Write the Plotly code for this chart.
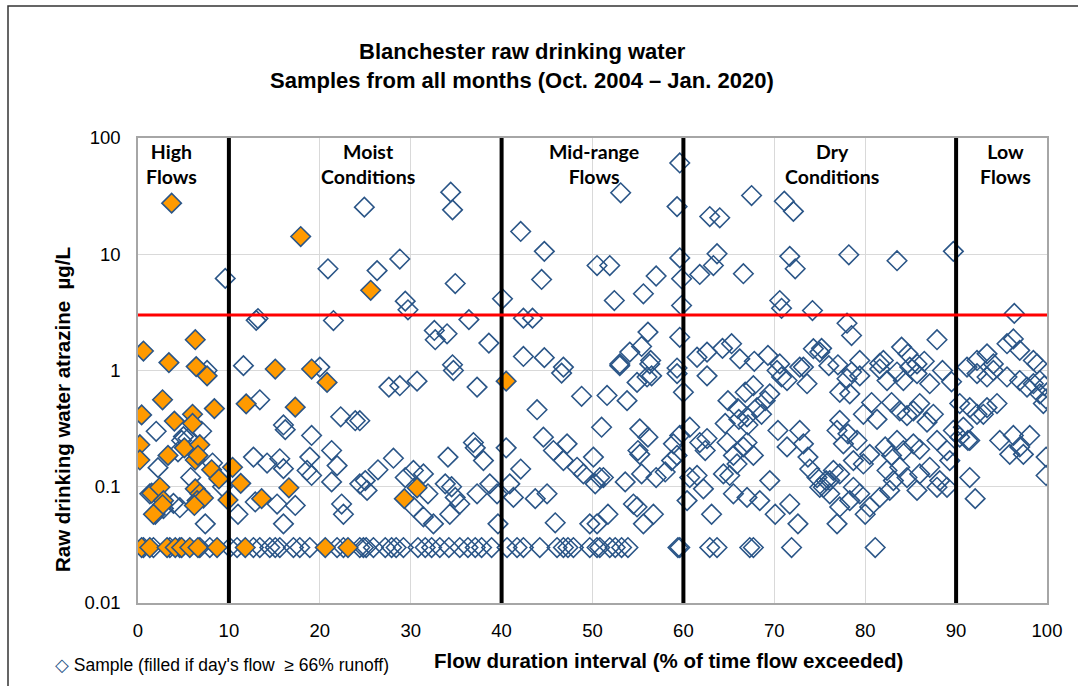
import plotly.graph_objects as go

# ---------------- DATA ----------------
# Samples with day's flow >= 66% runoff (filled)
filled_x = [3.7, 17.9, 25.6, 0.6, 6.3, 3.4, 6.4, 7.6, 2.7, 0.4, 4.0, 6.0, 6.0, 8.4, 0.2, 5.1, 6.8,
            3.3, 0.2, 6.3, 6.6, 8.1, 8.9, 10.4, 11.3, 1.5, 2.4, 2.8, 2.7, 1.7, 6.3, 6.8, 6.5, 7.2,
            6.2, 9.9, 13.6, 16.6, 17.3, 11.9, 15.1, 19.1, 20.8, 40.5, 30.7, 29.3,
            0.4, 1.3, 3.2, 4.1, 4.8, 5.7, 6.6, 8.7, 11.8, 20.6, 23.1]
filled_y = [27.5, 14.2, 4.9, 1.47, 1.84, 1.17, 1.08, 0.9, 0.56, 0.415, 0.367, 0.42, 0.35, 0.47, 0.23, 0.216, 0.23,
            0.186, 0.17, 0.17, 0.186, 0.14, 0.117, 0.147, 0.107, 0.088, 0.099, 0.076, 0.07, 0.058, 0.096, 0.087, 0.076, 0.08,
            0.069, 0.077, 0.079, 0.098, 0.484, 0.517, 1.03, 1.03, 0.79, 0.81, 0.098, 0.079,
            0.03, 0.03, 0.03, 0.03, 0.03, 0.03, 0.03, 0.03, 0.03, 0.03, 0.03]

# Other samples (open)
open_x = [
    9.6, 20.9, 13.0, 13.2, 21.5, 11.6, 20.0, 7.6,
    24.9, 34.4, 34.6, 42.1, 44.7, 44.4, 34.9, 28.8, 26.3, 29.4, 29.7, 40.1, 42.4, 43.4, 36.4, 32.6, 34.0, 32.7, 38.6,
    42.4, 44.7, 46.8, 34.6,
    59.6, 53.1, 59.3, 67.5, 62.9, 64.0, 71.1, 72.1, 50.5, 51.9, 59.6, 63.7, 63.3, 57.0, 59.8, 61.8, 66.6, 71.7, 72.3,
    55.6, 52.4, 59.8, 70.6, 70.8, 74.2, 59.6, 56.1, 55.4, 54.1, 53.0, 56.4, 62.6, 65.3, 66.2, 74.3, 75.0, 70.6, 72.8, 59.3,
    78.2, 83.5, 89.7, 96.4, 78.0, 78.5, 75.2, 87.9, 84.0, 84.7, 79.4, 82.0, 81.6, 85.7,
    92.3, 93.4, 94.1, 95.6, 96.3, 97.0, 98.5, 98.9, 67.8, 69.3, 61.5, 64.3, 88.5, 89.5, 86.5,
    13.4, 22.3, 23.9, 16.2, 16.0, 19.1, 21.3, 21.9, 12.7, 14.2, 15.6, 16.0, 18.9, 18.6, 19.1, 2.2, 1.3, 1.9, 2.8, 3.9,
    4.6, 7.4, 4.8, 5.0, 5.5, 11.0, 12.9, 15.3, 16.0, 17.3, 22.4, 22.6, 24.4, 21.3, 2.0, 4.4, 7.0, 8.2, 9.3, 5.8,
    34.7, 27.6, 28.8, 30.7, 37.3, 24.4, 28.1, 26.4, 34.1, 36.9, 37.1, 38.0, 40.5, 42.1, 43.9, 44.6, 46.6, 48.8, 45.7,
    47.2, 46.8, 48.3, 49.0, 50.1, 50.8, 25.0, 25.2, 29.4, 30.3, 31.4, 31.9, 30.3, 31.4, 32.5, 33.8, 34.5, 34.9, 35.4,
    34.3, 37.3, 38.7, 39.5, 39.6, 40.9, 41.3, 43.7, 45.0, 45.9, 49.7,
    53.0, 56.3, 54.9, 56.0, 56.5, 59.3, 60.0, 62.6, 51.6, 53.8, 51.0, 55.2, 56.1, 55.0, 55.2, 50.3, 51.2, 53.6, 55.4,
    57.0, 58.0, 58.7, 59.3, 58.9, 59.6, 54.5, 54.9, 56.7, 55.6, 51.7, 50.5, 60.4, 60.7, 61.8, 62.4, 62.6, 60.7, 61.5,
    62.2, 63.1, 64.8, 65.5, 65.9, 66.6, 67.0, 67.7, 64.9, 66.0, 66.8, 67.7, 67.0, 68.1, 68.6, 69.0, 69.5, 64.6, 66.1,
    67.1, 64.4, 65.1, 65.5, 67.0, 68.4, 69.5, 70.1, 70.3, 70.8, 71.4, 73.2, 73.6, 70.4, 71.4, 72.8, 73.2, 73.7, 71.7,
    72.6, 73.9, 74.7, 75.4, 76.1,
    78.5, 79.4, 78.0, 77.2, 78.3, 81.6, 82.4, 83.5, 84.2, 84.9, 85.7, 80.7, 81.3, 79.8, 82.9, 83.8, 84.6, 85.3, 86.0,
    87.1, 87.5, 86.8, 77.2, 76.9, 78.1, 79.1, 77.6, 82.2, 82.9, 83.5, 84.2, 85.3, 86.0, 87.9, 89.0, 89.7, 90.4, 91.3,
    89.3, 78.7, 79.8, 80.5, 76.5, 77.2, 75.7, 75.0, 76.1, 78.7, 79.4, 78.3, 77.2, 76.9, 82.4, 83.1, 83.8, 84.6, 82.7,
    81.6, 80.5, 80.0, 86.0, 87.1, 88.2, 89.0, 87.9, 85.7, 81.1, 90.4, 91.5, 92.3, 93.4, 94.5, 93.0, 91.5, 90.8, 91.5,
    92.1, 94.8, 96.3, 97.0, 98.1, 95.9, 97.4, 99.9, 99.9, 91.2, 92.3, 93.4, 94.1, 95.6, 97.0, 97.8, 98.5, 99.2, 99.6,
    99.2, 99.7, 99.9, 76.0, 77.0,
]
open_y = [
    6.2, 7.5, 2.7, 2.8, 2.69, 1.1, 1.07, 1.0,
    25.4, 34.2, 24.1, 15.7, 10.6, 6.07, 5.6, 9.1, 7.24, 3.95, 3.33, 4.14, 2.82, 2.82, 2.74, 2.21, 2.07, 1.84, 1.72,
    1.32, 1.29, 1.07, 1.12,
    61, 33.8, 25.7, 32, 21.1, 20.6, 28.6, 23.4, 8.0, 8.0, 9.3, 10.1, 8.0, 6.5, 6.16, 6.7, 6.8, 9.6, 7.5,
    4.57, 4.0, 3.62, 4.0, 3.43, 3.28, 1.93, 2.14, 1.61, 1.44, 1.14, 1.22, 1.44, 1.7, 1.26, 1.54, 1.44, 1.14, 1.07, 1.05,
    9.9, 8.8, 10.6, 3.1, 2.55, 2.0, 1.55, 1.84, 1.59, 1.39, 1.22, 1.22, 1.15, 1.14,
    1.22, 1.39, 1.14, 1.7, 1.87, 1.49, 1.22, 1.14, 1.2, 1.35, 1.3, 1.55, 1.0, 0.8, 1.2,
    0.56, 0.4, 0.37, 0.31, 0.34, 0.276, 0.205, 0.152, 0.18, 0.16, 0.174, 0.143, 0.18, 0.138, 0.125, 0.146, 0.087, 0.058, 0.065, 0.072,
    0.066, 0.048, 0.25, 0.27, 0.26, 0.058, 0.074, 0.071, 0.048, 0.069, 0.071, 0.058, 0.106, 0.11, 0.3, 0.2, 0.3, 0.16, 0.1, 0.12,
    1.0, 0.72, 0.74, 0.81, 0.72, 0.37, 0.176, 0.14, 0.18, 0.24, 0.216, 0.168, 0.216, 0.142, 0.46, 0.267, 0.95, 0.6, 0.205,
    0.234, 0.168, 0.147, 0.129, 0.18, 0.12, 0.113, 0.093, 0.12, 0.138, 0.129, 0.087, 0.067, 0.055, 0.048, 0.106, 0.1, 0.081, 0.071,
    0.058, 0.087, 0.106, 0.087, 0.048, 0.106, 0.081, 0.079, 0.087, 0.049, 0.048,
    1.1, 1.14, 0.79, 0.88, 0.9, 0.94, 0.65, 0.9, 0.61, 0.55, 0.325, 0.315, 0.267, 0.205, 0.19, 0.106, 0.12, 0.11, 0.129,
    0.12, 0.134, 0.168, 0.186, 0.234, 0.276, 0.071, 0.067, 0.058, 0.048, 0.058, 0.048, 0.076, 0.325, 0.24, 0.205, 0.26, 0.12, 0.125,
    0.096, 0.058, 0.24, 0.186, 0.157, 0.22, 0.24, 0.186, 0.55, 0.47, 0.65, 0.74, 0.4, 0.48, 0.42, 0.55, 0.63, 0.35, 0.38,
    0.34, 0.129, 0.125, 0.087, 0.081, 0.076, 0.113, 0.058, 1.0, 0.88, 0.82, 1.07, 0.77, 0.305, 0.22, 0.305, 0.234, 0.18, 0.071,
    0.048, 0.142, 0.12, 0.099, 0.113,
    0.97, 0.9, 0.85, 0.65, 0.63, 1.03, 0.82, 0.97, 0.82, 1.07, 0.94, 0.53, 0.38, 0.42, 0.53, 0.45, 0.41, 0.45, 0.52,
    0.77, 0.42, 0.36, 0.372, 0.305, 0.285, 0.25, 0.234, 0.22, 0.186, 0.25, 0.205, 0.234, 0.21, 0.25, 0.205, 0.305, 0.267, 0.25,
    0.168, 0.168, 0.157, 0.19, 0.138, 0.129, 0.113, 0.099, 0.087, 0.099, 0.087, 0.076, 0.067, 0.048, 0.138, 0.113, 0.147, 0.12, 0.093,
    0.081, 0.067, 0.058, 0.129, 0.147, 0.113, 0.099, 0.099, 0.093, 0.03, 0.52, 0.48, 0.42, 0.48, 0.52, 0.42, 0.25, 0.325, 0.12,
    0.079, 0.25, 0.276, 0.22, 0.276, 0.19, 0.19, 0.18, 0.125, 1.07, 0.94, 0.88, 1.0, 0.88, 0.82, 0.72, 0.77, 0.63, 0.52,
    0.82, 0.74, 0.57, 1.1, 1.12,
]

# Open samples reported at the detection limit (0.03 µg/L)
det_x = [0.6, 1.7, 3.5, 4.6, 6.8, 7.9, 10.1, 10.9, 12.7, 13.4, 14.5, 15.1, 15.6, 17.1, 17.8, 18.9, 21.9, 22.6, 24.4, 25.1,
         24.8, 25.9, 27.2, 27.9, 28.4, 29.2, 30.8, 31.6, 32.3, 33.2, 34.2, 35.4, 36.3, 37.1, 37.8, 38.9, 40.6, 41.7, 42.4,
         44.2, 46.1, 46.8, 47.3, 47.9, 49.7, 50.5, 50.8, 51.9, 52.5, 53.2, 53.9, 59.4, 59.6, 62.9, 63.7, 67.3, 67.7, 71.9]
det_y = [0.03, 0.03, 0.03, 0.03, 0.03, 0.03, 0.03, 0.03, 0.03, 0.03, 0.03, 0.03, 0.03, 0.03, 0.03, 0.03, 0.03, 0.03, 0.03, 0.03,
         0.03, 0.03, 0.03, 0.03, 0.03, 0.03, 0.03, 0.03, 0.03, 0.03, 0.03, 0.03, 0.03, 0.03, 0.03, 0.03, 0.03, 0.03, 0.03,
         0.03, 0.03, 0.03, 0.03, 0.03, 0.03, 0.03, 0.03, 0.03, 0.03, 0.03, 0.03, 0.03, 0.03, 0.03, 0.03, 0.03, 0.03, 0.03]

boundaries = [10, 40, 60, 90]
mcl = 3.0
region_labels = ["High<br>Flows", "Moist<br>Conditions", "Mid-range<br>Flows", "Dry<br>Conditions", "Low<br>Flows"]
region_label_x = [3.7, 25.3, 50.2, 76.4, 95.4]
x_ticks = [0, 10, 20, 30, 40, 50, 60, 70, 80, 90, 100]
y_ticks = [0.01, 0.1, 1, 10, 100]
y_tick_text = ["0.01", "0.1", "1", "10", "100"]

BLUE = "#2A5587"
ORANGE = "#FF9A00"

fig = go.Figure()
fig.add_trace(go.Scatter(
    x=open_x + det_x, y=open_y + det_y, mode="markers",
    marker=dict(symbol="diamond-open", size=15, color=BLUE, line=dict(width=1.6, color=BLUE)),
    showlegend=False, hoverinfo="x+y"))
fig.add_trace(go.Scatter(
    x=filled_x, y=filled_y, mode="markers",
    marker=dict(symbol="diamond", size=15, color=ORANGE, line=dict(width=1.6, color=BLUE)),
    showlegend=False, hoverinfo="x+y"))

shapes = []
for b in boundaries:
    shapes.append(dict(type="line", xref="x", yref="paper", x0=b, x1=b, y0=0, y1=1,
                       line=dict(color="black", width=4)))
shapes.append(dict(type="line", xref="paper", yref="y", x0=0, x1=1, y0=mcl, y1=mcl,
                   line=dict(color="#FF0000", width=3)))
shapes.append(dict(type="rect", xref="paper", yref="paper",
                   x0=(8 - 138) / 909, x1=(1090 - 138) / 909, y0=(603 - 700) / 465, y1=(603 - 6) / 465,
                   line=dict(color="#333333", width=1.5), layer="below"))

annotations = []
for txt, xx in zip(region_labels, region_label_x):
    annotations.append(dict(text="<b>" + txt + "</b>", x=xx, xref="x", y=1.0, yref="paper",
                            xanchor="center", yanchor="top", showarrow=False,
                            font=dict(family="Lato", size=19.5, color="black"), align="center"))
legend_text = "<span style='color:" + BLUE + "'>◇</span> Sample (filled if day's flow  ≥ 66% runoff)"
annotations += [
    dict(text="<b>Blanchester raw drinking water</b>", x=(522 - 138) / 909, y=(603 - 52) / 465,
         xref="paper", yref="paper", showarrow=False, xanchor="center", yanchor="middle",
         font=dict(family="Liberation Sans", size=22, color="black")),
    dict(text="<b>Samples from all months (Oct. 2004 – Jan. 2020)</b>", x=(522 - 138) / 909, y=(603 - 80) / 465,
         xref="paper", yref="paper", showarrow=False, xanchor="center", yanchor="middle",
         font=dict(family="Liberation Sans", size=22, color="black")),
    dict(text="<b>Flow duration interval (% of time flow exceeded)</b>", x=(668 - 138) / 909, y=(603 - 660) / 465,
         xref="paper", yref="paper", showarrow=False, xanchor="center", yanchor="middle",
         font=dict(family="Liberation Sans", size=20.5, color="black")),
    dict(text="<b>Raw drinking water atrazine  µg/L</b>", x=(62 - 138) / 909, y=(603 - 410) / 465,
         xref="paper", yref="paper", showarrow=False, xanchor="center", yanchor="middle", textangle=-90,
         font=dict(family="Liberation Sans", size=20.5, color="black")),
    dict(text=legend_text, x=(53 - 138) / 909, y=(603 - 665) / 465,
         xref="paper", yref="paper", showarrow=False, xanchor="left", yanchor="middle",
         font=dict(family="Liberation Sans", size=17.5, color="black")),
]

fig.update_layout(
    width=1078, height=686,
    margin=dict(l=138, r=31, t=138, b=83),
    paper_bgcolor="white", plot_bgcolor="white",
    shapes=shapes, annotations=annotations,
    font=dict(family="Liberation Sans", size=18, color="black"),
    xaxis=dict(range=[0, 100], tickvals=x_ticks, showgrid=True, gridcolor="#D9D9D9", gridwidth=1,
               showline=True, linecolor="#A6A6A6", linewidth=1.5, mirror=True, zeroline=False,
               ticks="outside", ticklen=10, tickcolor="rgba(0,0,0,0)",
               tickfont=dict(family="Liberation Sans", size=18.5, color="black")),
    yaxis=dict(type="log", range=[-2, 2], tickvals=y_ticks, ticktext=y_tick_text, showgrid=True,
               gridcolor="#D9D9D9", gridwidth=1, showline=True, linecolor="#A6A6A6", linewidth=1.5,
               mirror=True, zeroline=False, ticks="outside", ticklen=12, tickcolor="rgba(0,0,0,0)",
               tickfont=dict(family="Liberation Sans", size=18.5, color="black")),
)

fig.write_html("out.html")
